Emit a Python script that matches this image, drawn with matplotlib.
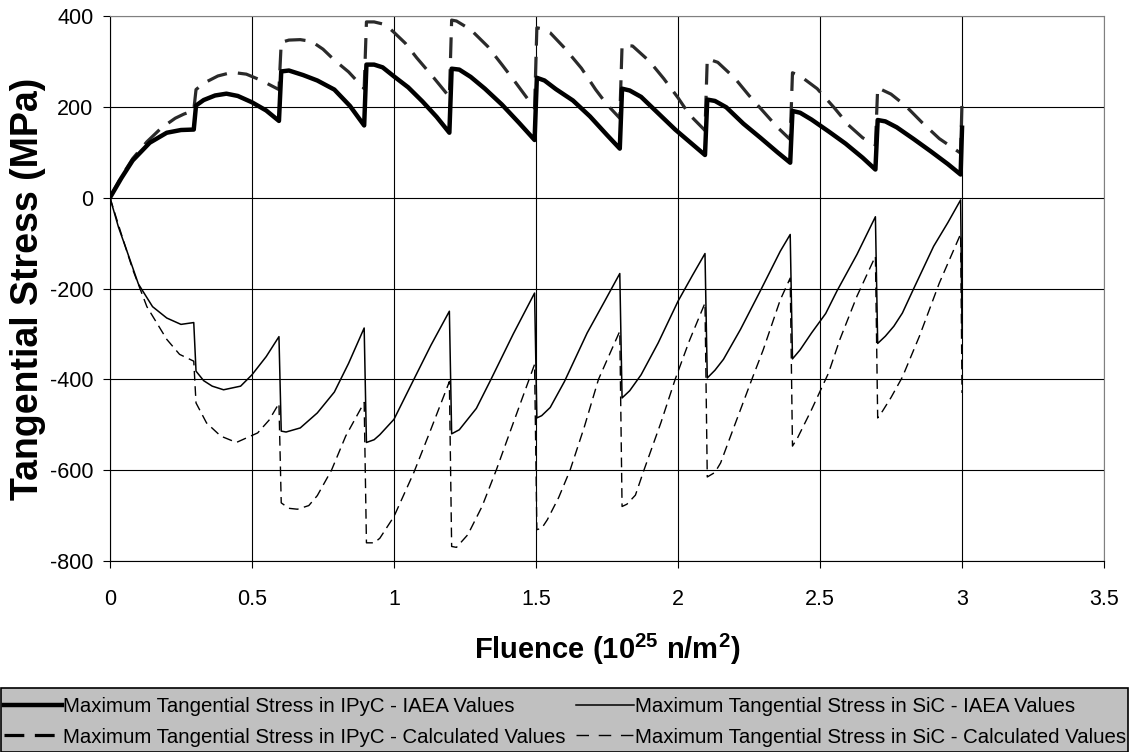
import matplotlib
matplotlib.use('Agg')
import matplotlib.pyplot as plt
from matplotlib.lines import Line2D
from matplotlib.patches import Rectangle

plt.rcParams['font.family'] = ['Liberation Sans', 'DejaVu Sans']
plt.rcParams['axes.unicode_minus'] = False
plt.rcParams['mathtext.fontset'] = 'custom'
plt.rcParams['mathtext.bf'] = 'Liberation Sans:bold'
plt.rcParams['mathtext.rm'] = 'Liberation Sans:bold'
plt.rcParams['mathtext.default'] = 'bf'

# Maximum tangential stress in IPyC - IAEA values
ipyc_iaea_x = [0, 0.04, 0.08, 0.14, 0.2, 0.25, 0.295,
               0.303, 0.33, 0.37, 0.41, 0.45, 0.5, 0.55, 0.595,
               0.603, 0.63, 0.68, 0.73, 0.79, 0.845, 0.895,
               0.903, 0.93, 0.96, 1.0, 1.05, 1.1, 1.15, 1.195,
               1.203, 1.23, 1.27, 1.32, 1.38, 1.44, 1.495,
               1.503, 1.53, 1.57, 1.63, 1.69, 1.75, 1.795,
               1.803, 1.83, 1.87, 1.93, 1.99, 2.05, 2.095,
               2.103, 2.13, 2.17, 2.23, 2.29, 2.35, 2.395,
               2.403, 2.43, 2.47, 2.53, 2.59, 2.65, 2.695,
               2.703, 2.73, 2.77, 2.83, 2.89, 2.95, 2.995, 3.0]
ipyc_iaea_y = [0, 43, 82, 121, 143, 149, 150,
               203, 215, 225, 229, 224, 210, 192, 169,
               278, 280, 270, 258, 238, 202, 159,
               293, 293, 287, 267, 243, 212, 178, 143,
               284, 282, 266, 240, 205, 165, 127,
               264, 258, 239, 214, 179, 138, 108,
               240, 236, 222, 186, 150, 118, 94,
               216, 213, 199, 163, 132, 100, 77,
               191, 187, 172, 146, 119, 88, 62,
               171, 168, 155, 129, 102, 74, 51, 154]

# Maximum tangential stress in IPyC - calculated values
ipyc_calc_x = [0, 0.04, 0.08, 0.13, 0.18, 0.23, 0.26, 0.295,
               0.303, 0.33, 0.38, 0.43, 0.48, 0.53, 0.595,
               0.603, 0.63, 0.67, 0.71, 0.75, 0.79, 0.84, 0.895,
               0.903, 0.93, 0.97, 1.0, 1.04, 1.08, 1.14, 1.195,
               1.203, 1.22, 1.27, 1.33, 1.38, 1.43, 1.495,
               1.503, 1.52, 1.55, 1.6, 1.66, 1.71, 1.75, 1.795,
               1.803, 1.84, 1.9, 1.95, 2.0, 2.04, 2.095,
               2.103, 2.14, 2.2, 2.25, 2.3, 2.35, 2.395,
               2.403, 2.43, 2.49, 2.55, 2.6, 2.65, 2.695,
               2.703, 2.75, 2.8, 2.86, 2.92, 2.995, 3.0]
ipyc_calc_y = [0, 46, 86, 123, 153, 175, 184, 192,
               238, 252, 268, 276, 272, 259, 238,
               342, 347, 348, 344, 327, 303, 277, 240,
               387, 387, 381, 364, 340, 308, 264, 222,
               391, 389, 370, 333, 293, 252, 197,
               374, 372, 363, 330, 285, 238, 205, 175,
               335, 334, 300, 262, 220, 183, 148,
               306, 298, 263, 225, 190, 155, 128,
               275, 268, 240, 198, 160, 132, 116,
               242, 228, 203, 165, 130, 98, 213]

# Maximum tangential stress in SiC - IAEA values
sic_iaea_x = [0, 0.03, 0.06, 0.1, 0.15, 0.2, 0.25, 0.295,
              0.303, 0.33, 0.36, 0.4, 0.46, 0.5, 0.55, 0.595,
              0.603, 0.62, 0.67, 0.73, 0.79, 0.84, 0.895,
              0.903, 0.93, 0.95, 1.0, 1.07, 1.13, 1.195,
              1.203, 1.23, 1.29, 1.34, 1.42, 1.495,
              1.503, 1.52, 1.55, 1.6, 1.68, 1.74, 1.795,
              1.803, 1.83, 1.87, 1.93, 2.0, 2.05, 2.095,
              2.103, 2.13, 2.16, 2.22, 2.29, 2.36, 2.395,
              2.403, 2.43, 2.47, 2.52, 2.56, 2.63, 2.695,
              2.703, 2.73, 2.76, 2.79, 2.83, 2.9, 2.95, 2.995, 3.0]
sic_iaea_y = [0, -65, -118, -190, -240, -265, -279, -275,
              -382, -403, -415, -423, -415, -390, -350, -306,
              -514, -516, -507, -474, -428, -365, -287,
              -539, -533, -522, -488, -400, -325, -250,
              -520, -511, -464, -402, -300, -210,
              -485, -480, -462, -405, -298, -230, -167,
              -441, -425, -390, -320, -228, -172, -123,
              -397, -380, -356, -290, -205, -118, -81,
              -355, -335, -298, -255, -205, -125, -42,
              -321, -305, -283, -254, -200, -107, -55, -5, -290]

# Maximum tangential stress in SiC - calculated values
sic_calc_x = [0, 0.04, 0.08, 0.13, 0.2, 0.245, 0.295,
              0.303, 0.34, 0.39, 0.445, 0.52, 0.56, 0.595,
              0.603, 0.63, 0.66, 0.7, 0.73, 0.78, 0.83, 0.895,
              0.903, 0.93, 0.95, 1.0, 1.07, 1.13, 1.195,
              1.203, 1.22, 1.26, 1.31, 1.36, 1.42, 1.495,
              1.503, 1.52, 1.54, 1.58, 1.62, 1.67, 1.72, 1.795,
              1.803, 1.82, 1.85, 1.88, 1.94, 1.99, 2.04, 2.095,
              2.103, 2.13, 2.15, 2.2, 2.26, 2.3, 2.36, 2.395,
              2.403, 2.42, 2.47, 2.53, 2.57, 2.63, 2.695,
              2.703, 2.72, 2.75, 2.79, 2.85, 2.92, 2.995, 3.0]
sic_calc_y = [0, -80, -158, -240, -312, -345, -360,
              -452, -496, -525, -539, -518, -490, -453,
              -672, -684, -686, -678, -656, -600, -525, -451,
              -760, -760, -750, -702, -605, -510, -405,
              -768, -770, -742, -680, -600, -496, -367,
              -731, -728, -709, -660, -600, -505, -400, -294,
              -680, -675, -655, -600, -495, -400, -315, -232,
              -615, -605, -584, -500, -400, -335, -225, -177,
              -547, -530, -467, -386, -312, -217, -129,
              -485, -470, -440, -395, -305, -188, -80, -430]

labels = ['Maximum Tangential Stress in IPyC - IAEA Values',
          'Maximum Tangential Stress in IPyC - Calculated Values',
          'Maximum Tangential Stress in SiC - IAEA Values',
          'Maximum Tangential Stress in SiC - Calculated Values']

fig = plt.figure(figsize=(11.29, 7.52), dpi=100)
ax = fig.add_axes([0.0974, 0.254, 0.8805, 0.7247])

ipyc_dash = (0, (6.5, 3.5))
sic_dash = (0, (7, 4))

ax.plot(sic_calc_x, sic_calc_y, color='black', lw=1.0, linestyle=sic_dash, zorder=3)
ax.plot(sic_iaea_x, sic_iaea_y, color='black', lw=1.1, zorder=4)
ax.plot(ipyc_calc_x, ipyc_calc_y, color='#2a2a2a', lw=2.3, linestyle=ipyc_dash, zorder=3)
ax.plot(ipyc_iaea_x, ipyc_iaea_y, color='black', lw=3.2, zorder=4)

ax.set_xlim(0, 3.5)
ax.set_ylim(-800, 400)
ax.set_xticks([0, 0.5, 1, 1.5, 2, 2.5, 3, 3.5])
ax.set_xticklabels(['0', '0.5', '1', '1.5', '2', '2.5', '3', '3.5'])
ax.set_yticks(range(-800, 401, 200))
ax.grid(True, color='black', lw=0.8)
ax.set_axisbelow(True)
for s in ['top', 'right']:
    ax.spines[s].set_color('#808080')
ax.tick_params(axis='both', direction='out', length=5, width=0.8, labelsize=15.5)
ax.tick_params(axis='x', pad=15)
ax.tick_params(axis='y', pad=7)

ax.set_xlabel('Fluence (10$^{25}$ n/m$^{2}$)', fontsize=21, fontweight='bold', labelpad=16)
ax.set_ylabel('Tangential Stress (MPa)', fontsize=27, fontweight='bold', labelpad=3)

# grey legend band across the bottom
fig.patches.append(Rectangle((0.0005, 0.0005), 0.999, 64 / 752, transform=fig.transFigure,
                             facecolor='#c0c0c0', edgecolor='black', lw=1.2, zorder=0))

handles = [
    Line2D([], [], color='black', lw=3.2),
    Line2D([], [], color='black', lw=2.3, linestyle=(0, (6.2, 3.3))),
    Line2D([], [], color='black', lw=1.1),
    Line2D([], [], color='black', lw=1.0, linestyle=(0, (9, 7))),
]
leg = fig.legend(handles, labels, loc='center left', ncol=2,
                 bbox_to_anchor=(0, 30 / 752), borderaxespad=0,
                 fontsize=14.7, handlelength=2.85, handletextpad=0.05,
                 borderpad=0.2, labelspacing=0.55, columnspacing=0.5,
                 frameon=False)

fig.savefig('out.png', dpi=100)
